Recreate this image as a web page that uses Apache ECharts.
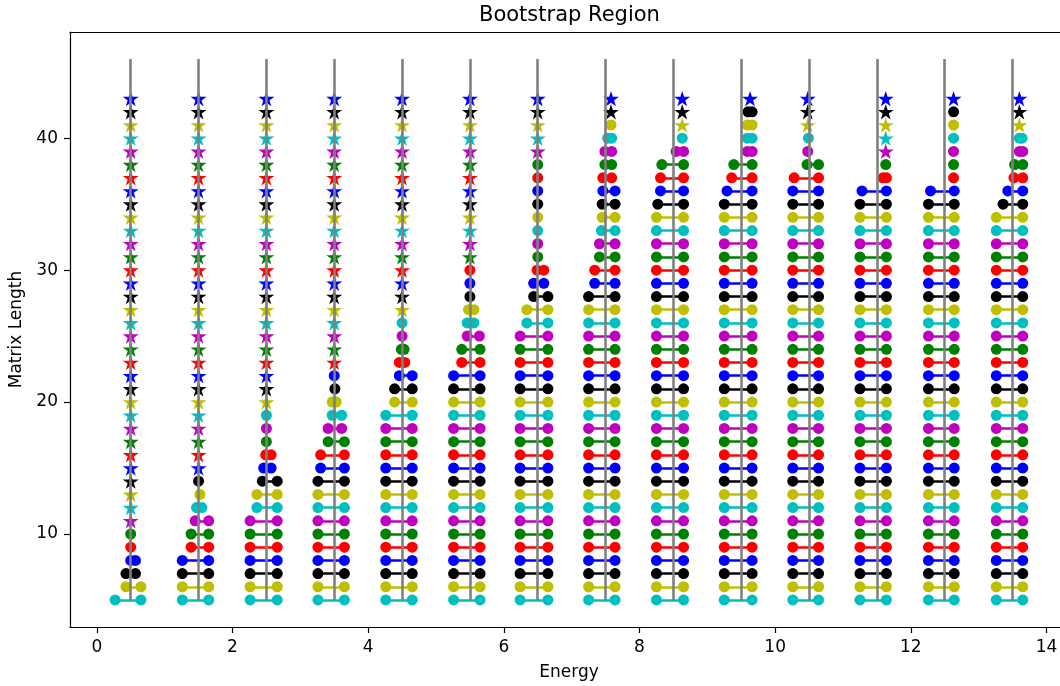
<!DOCTYPE html>
<html>
<head>
<meta charset="utf-8">
<script src="https://cdn.jsdelivr.net/npm/echarts@6/dist/echarts.min.js"></script>
<style>
  html, body { margin: 0; padding: 0; background: #fff; overflow: hidden; }
  #chart { width: 1060px; height: 686px; }
</style>
</head>
<body>
<div id="chart"></div>
<script>
// energy bins (x centre of each gray line)
const binCenters = [0.5, 1.5, 2.5, 3.5, 4.5, 5.5, 6.5, 7.5, 8.5, 9.5, 10.5, 11.5, 12.5, 13.5];
// matrix lengths, one row per length
const matrixLengths = [5, 6, 7, 8, 9, 10, 11, 12, 13, 14, 15, 16, 17, 18, 19, 20, 21, 22, 23, 24,
  25, 26, 27, 28, 29, 30, 31, 32, 33, 34, 35, 36, 37, 38, 39, 40, 41, 42, 43];
// gray line extent
const lineBottom = 5;
const lineTop = 46;
// first matrix length drawn as a star in each bin
const starFrom = [11, 15, 20, 23, 27, 31, 39, 42, 41, 43, 41, 39, 43, 41];

// lower edge of region, per bin, rows L=5..9 | 10..19 | 20..29 | 30..39 | 40..43
const lowerBounds = [
  [0.27,0.43,0.43,0.5,0.5, 0.5,0.5,0.5,0.5,0.5,0.5,0.5,0.5,0.5,0.5, 0.5,0.5,0.5,0.5,0.5,0.5,0.5,0.5,0.5,0.5, 0.5,0.5,0.5,0.5,0.5,0.5,0.5,0.5,0.5,0.5, 0.5,0.5,0.5,0.5],
  [1.26,1.26,1.26,1.26,1.39, 1.39,1.45,1.47,1.52,1.5,1.5,1.5,1.5,1.5,1.5, 1.5,1.5,1.5,1.5,1.5,1.5,1.5,1.5,1.5,1.5, 1.5,1.5,1.5,1.5,1.5,1.5,1.5,1.5,1.5,1.5, 1.5,1.5,1.5,1.5],
  [2.26,2.26,2.26,2.26,2.26, 2.26,2.26,2.36,2.36,2.44,2.46,2.49,2.5,2.5,2.5, 2.5,2.5,2.5,2.5,2.5,2.5,2.5,2.5,2.5,2.5, 2.5,2.5,2.5,2.5,2.5,2.5,2.5,2.5,2.5,2.5, 2.5,2.5,2.5,2.5],
  [3.26,3.26,3.26,3.26,3.26, 3.26,3.26,3.26,3.26,3.26,3.3,3.3,3.41,3.41,3.47, 3.47,3.51,3.5,3.5,3.5,3.5,3.5,3.5,3.5,3.5, 3.5,3.5,3.5,3.5,3.5,3.5,3.5,3.5,3.5,3.5, 3.5,3.5,3.5,3.5],
  [4.26,4.26,4.26,4.26,4.26, 4.26,4.26,4.26,4.26,4.26,4.26,4.26,4.26,4.26,4.26, 4.39,4.39,4.46,4.46,4.49,4.5,4.5,4.5,4.5,4.5, 4.5,4.5,4.5,4.5,4.5,4.5,4.5,4.5,4.5,4.5, 4.5,4.5,4.5,4.5],
  [5.26,5.26,5.26,5.26,5.26, 5.26,5.26,5.26,5.26,5.26,5.26,5.26,5.26,5.26,5.26, 5.26,5.26,5.26,5.38,5.38,5.46,5.46,5.48,5.5,5.5, 5.5,5.5,5.5,5.5,5.5,5.5,5.5,5.5,5.5,5.5, 5.5,5.5,5.5,5.5],
  [6.24,6.24,6.24,6.24,6.24, 6.24,6.24,6.24,6.24,6.24,6.24,6.24,6.24,6.24,6.24, 6.24,6.24,6.24,6.24,6.24,6.24,6.34,6.34,6.44,6.44, 6.49,6.5,6.5,6.5,6.5,6.5,6.5,6.5,6.5,6.5, 6.5,6.5,6.5,6.5],
  [7.25,7.25,7.25,7.25,7.25, 7.25,7.25,7.25,7.25,7.25,7.25,7.25,7.25,7.25,7.25, 7.25,7.25,7.25,7.25,7.25,7.25,7.25,7.25,7.25,7.34, 7.34,7.41,7.41,7.44,7.45,7.45,7.46,7.46,7.49,7.49, 7.53,7.58,7.58,7.58],
  [8.25,8.25,8.25,8.25,8.25, 8.25,8.25,8.25,8.25,8.25,8.25,8.25,8.25,8.25,8.25, 8.25,8.25,8.25,8.25,8.25,8.25,8.25,8.25,8.25,8.25, 8.25,8.25,8.25,8.25,8.25,8.27,8.31,8.31,8.33,8.54, 8.63,8.63,8.63,8.63],
  [9.25,9.25,9.25,9.25,9.25, 9.25,9.25,9.25,9.25,9.25,9.25,9.25,9.25,9.25,9.25, 9.25,9.25,9.25,9.25,9.25,9.25,9.25,9.25,9.25,9.25, 9.25,9.25,9.25,9.25,9.25,9.25,9.29,9.36,9.39,9.59, 9.59,9.59,9.6,9.63],
  [10.26,10.26,10.26,10.26,10.26, 10.26,10.26,10.26,10.26,10.26,10.26,10.26,10.26,10.26,10.26, 10.26,10.26,10.26,10.26,10.26,10.26,10.26,10.26,10.26,10.26, 10.26,10.26,10.26,10.26,10.26,10.26,10.26,10.28,10.47,10.48, 10.49,10.48,10.48,10.48],
  [11.25,11.25,11.25,11.25,11.25, 11.25,11.25,11.25,11.25,11.25,11.25,11.25,11.25,11.25,11.25, 11.25,11.25,11.25,11.25,11.25,11.25,11.25,11.25,11.25,11.25, 11.25,11.25,11.25,11.25,11.25,11.25,11.28,11.59,11.63,11.63, 11.63,11.63,11.63,11.63],
  [12.26,12.26,12.26,12.26,12.26, 12.26,12.26,12.26,12.26,12.26,12.26,12.26,12.26,12.26,12.26, 12.26,12.26,12.26,12.26,12.26,12.26,12.26,12.26,12.26,12.26, 12.26,12.26,12.26,12.26,12.26,12.26,12.29,12.63,12.63,12.63, 12.63,12.63,12.63,12.63],
  [13.26,13.26,13.26,13.26,13.26, 13.26,13.26,13.26,13.26,13.26,13.26,13.26,13.26,13.26,13.26, 13.26,13.26,13.26,13.26,13.26,13.26,13.26,13.26,13.26,13.26, 13.26,13.26,13.26,13.26,13.26,13.36,13.43,13.52,13.53,13.6, 13.6,13.6,13.6,13.6]
];
// upper edge of region, same layout
const upperBounds = [
  [0.65,0.65,0.57,0.57,0.5, 0.5,0.5,0.5,0.5,0.5,0.5,0.5,0.5,0.5,0.5, 0.5,0.5,0.5,0.5,0.5,0.5,0.5,0.5,0.5,0.5, 0.5,0.5,0.5,0.5,0.5,0.5,0.5,0.5,0.5,0.5, 0.5,0.5,0.5,0.5],
  [1.65,1.65,1.65,1.65,1.65, 1.65,1.65,1.55,1.52,1.5,1.5,1.5,1.5,1.5,1.5, 1.5,1.5,1.5,1.5,1.5,1.5,1.5,1.5,1.5,1.5, 1.5,1.5,1.5,1.5,1.5,1.5,1.5,1.5,1.5,1.5, 1.5,1.5,1.5,1.5],
  [2.66,2.66,2.66,2.66,2.66, 2.66,2.66,2.66,2.66,2.66,2.57,2.57,2.5,2.5,2.5, 2.5,2.5,2.5,2.5,2.5,2.5,2.5,2.5,2.5,2.5, 2.5,2.5,2.5,2.5,2.5,2.5,2.5,2.5,2.5,2.5, 2.5,2.5,2.5,2.5],
  [3.65,3.65,3.65,3.65,3.65, 3.65,3.65,3.65,3.65,3.65,3.65,3.65,3.65,3.61,3.61, 3.53,3.51,3.5,3.5,3.5,3.5,3.5,3.5,3.5,3.5, 3.5,3.5,3.5,3.5,3.5,3.5,3.5,3.5,3.5,3.5, 3.5,3.5,3.5,3.5],
  [4.65,4.65,4.65,4.65,4.65, 4.65,4.65,4.65,4.65,4.65,4.65,4.65,4.65,4.65,4.65, 4.65,4.65,4.65,4.54,4.53,4.5,4.5,4.5,4.5,4.5, 4.5,4.5,4.5,4.5,4.5,4.5,4.5,4.5,4.5,4.5, 4.5,4.5,4.5,4.5],
  [5.65,5.65,5.65,5.65,5.65, 5.65,5.65,5.65,5.65,5.65,5.65,5.65,5.65,5.65,5.65, 5.65,5.65,5.65,5.65,5.65,5.64,5.56,5.56,5.5,5.5, 5.5,5.5,5.5,5.5,5.5,5.5,5.5,5.5,5.5,5.5, 5.5,5.5,5.5,5.5],
  [6.65,6.65,6.65,6.65,6.65, 6.65,6.65,6.65,6.65,6.65,6.65,6.65,6.65,6.65,6.65, 6.65,6.65,6.65,6.65,6.65,6.65,6.65,6.65,6.65,6.59, 6.59,6.5,6.5,6.5,6.5,6.5,6.5,6.5,6.5,6.5, 6.5,6.5,6.5,6.5],
  [7.64,7.64,7.64,7.64,7.64, 7.64,7.64,7.64,7.64,7.64,7.64,7.64,7.64,7.64,7.64, 7.64,7.64,7.64,7.64,7.64,7.64,7.64,7.64,7.64,7.64, 7.64,7.64,7.64,7.64,7.64,7.64,7.64,7.59,7.59,7.59, 7.59,7.58,7.58,7.58],
  [8.65,8.65,8.65,8.65,8.65, 8.65,8.65,8.65,8.65,8.65,8.65,8.65,8.65,8.65,8.65, 8.65,8.65,8.65,8.65,8.65,8.65,8.65,8.65,8.65,8.65, 8.65,8.65,8.65,8.65,8.65,8.65,8.65,8.65,8.65,8.65, 8.63,8.63,8.63,8.63],
  [9.66,9.66,9.66,9.66,9.66, 9.66,9.66,9.66,9.66,9.66,9.66,9.66,9.66,9.66,9.66, 9.66,9.66,9.66,9.66,9.66,9.66,9.66,9.66,9.66,9.66, 9.66,9.66,9.66,9.66,9.66,9.66,9.66,9.66,9.66,9.66, 9.66,9.66,9.66,9.63],
  [10.64,10.64,10.64,10.64,10.64, 10.64,10.64,10.64,10.64,10.64,10.64,10.64,10.64,10.64,10.64, 10.64,10.64,10.64,10.64,10.64,10.64,10.64,10.64,10.64,10.64, 10.64,10.64,10.64,10.64,10.64,10.64,10.64,10.64,10.64,10.48, 10.49,10.48,10.48,10.48],
  [11.64,11.64,11.64,11.64,11.64, 11.64,11.64,11.64,11.64,11.64,11.64,11.64,11.64,11.64,11.64, 11.64,11.64,11.64,11.64,11.64,11.64,11.64,11.64,11.64,11.64, 11.64,11.64,11.64,11.64,11.64,11.64,11.64,11.64,11.63,11.63, 11.63,11.63,11.63,11.63],
  [12.64,12.64,12.64,12.64,12.64, 12.64,12.64,12.64,12.64,12.64,12.64,12.64,12.64,12.64,12.64, 12.64,12.64,12.64,12.64,12.64,12.64,12.64,12.64,12.64,12.64, 12.64,12.64,12.64,12.64,12.64,12.64,12.64,12.63,12.63,12.63, 12.63,12.63,12.63,12.63],
  [13.65,13.65,13.65,13.65,13.65, 13.65,13.65,13.65,13.65,13.65,13.65,13.65,13.65,13.65,13.65, 13.65,13.65,13.65,13.65,13.65,13.65,13.65,13.65,13.65,13.65, 13.65,13.65,13.65,13.65,13.65,13.65,13.65,13.65,13.65,13.65, 13.64,13.6,13.6,13.6]
];

const energyTicks = [0, 2, 4, 6, 8, 10, 12, 14];
const lengthTicks = [10, 20, 30, 40];

// matplotlib c, y, k, b, r, g, m cycle
const rowColors = ['#00bfbf', '#bfbf00', '#000000', '#0000ff', '#ff0000', '#008000', '#bf00bf'];
const starPath = 'path://M50,0L61.23,34.55L97.55,34.55L68.17,55.9L79.39,90.45L50,69.1L20.61,90.45L31.83,55.9L2.45,34.55L38.77,34.55Z';
const fontFamily = 'DejaVu Sans';

const chart = echarts.init(document.getElementById('chart'));

const segs = [], dots = [], stars = [];
binCenters.forEach((c, col) => {
  matrixLengths.forEach((len, i) => {
    const color = rowColors[i % rowColors.length];
    const lo = lowerBounds[col][i];
    const hi = upperBounds[col][i];
    if (len >= starFrom[col]) {
      stars.push({ value: [lo, len], itemStyle: { color: color } });
      return;
    }
    if (hi > lo) {
      segs.push({ coords: [[lo, len], [hi, len]], lineStyle: { color: color } });
      dots.push({ value: [lo, len], itemStyle: { color: color } });
      dots.push({ value: [hi, len], itemStyle: { color: color } });
    } else {
      dots.push({ value: [lo, len], itemStyle: { color: color } });
    }
  });
});
const grayLines = binCenters.map(c => ({ coords: [[c, lineBottom], [c, lineTop]] }));

const axisCommon = {
  type: 'value',
  nameLocation: 'middle',
  nameTextStyle: { fontFamily: fontFamily, fontSize: 17, color: '#000' },
  axisLine: { show: true, onZero: false, lineStyle: { color: '#000', width: 1.2 } },
  axisTick: { show: true, length: 6, lineStyle: { color: '#000', width: 1.2 } },
  axisLabel: { fontFamily: fontFamily, fontSize: 17, color: '#000', margin: 12 },
  splitLine: { show: false }
};

const option = {
  animation: false,
  backgroundColor: '#fff',
  title: {
    text: 'Bootstrap Region',
    left: 474,
    top: 0,
    textStyle: { fontFamily: fontFamily, fontSize: 21, fontWeight: 'normal', color: '#000' }
  },
  grid: {
    left: 70, top: 32, width: 998, height: 595,
    show: false,
    containLabel: false,
    outerBoundsMode: 'none'
  },
  xAxis: [
    Object.assign({}, axisCommon, {
      name: 'Energy',
      nameGap: 37,
      min: -0.395,
      max: 14.317,
      axisTick: Object.assign({}, axisCommon.axisTick, { customValues: energyTicks }),
      axisLabel: Object.assign({}, axisCommon.axisLabel, { customValues: energyTicks })
    }),
    {
      // top spine only
      type: 'value',
      position: 'top',
      min: -0.395,
      max: 14.317,
      axisLine: { show: true, onZero: false, lineStyle: { color: '#000', width: 1.2 } },
      axisTick: { show: false },
      axisLabel: { show: false },
      splitLine: { show: false }
    }
  ],
  yAxis: Object.assign({}, axisCommon, {
    name: 'Matrix Length',
    nameGap: 44,
    min: 2.95,
    max: 48.05,
    axisTick: Object.assign({}, axisCommon.axisTick, { customValues: lengthTicks }),
    axisLabel: Object.assign({}, axisCommon.axisLabel, { customValues: lengthTicks })
  }),
  series: [
    {
      type: 'lines',
      coordinateSystem: 'cartesian2d',
      polyline: false,
      silent: true,
      z: 2,
      lineStyle: { width: 2.5, opacity: 1, curveness: 0 },
      data: segs
    },
    {
      type: 'scatter',
      symbol: 'circle',
      symbolSize: 11,
      silent: true,
      z: 3,
      itemStyle: { opacity: 1 },
      data: dots
    },
    {
      type: 'scatter',
      symbol: starPath,
      symbolKeepAspect: true,
      symbolSize: 16,
      silent: true,
      z: 3,
      itemStyle: { opacity: 1 },
      data: stars
    },
    {
      type: 'lines',
      coordinateSystem: 'cartesian2d',
      polyline: false,
      silent: true,
      z: 5,
      lineStyle: { width: 2.6, color: '#808080', opacity: 1, curveness: 0 },
      data: grayLines
    }
  ]
};

chart.setOption(option);
</script>
</body>
</html>
